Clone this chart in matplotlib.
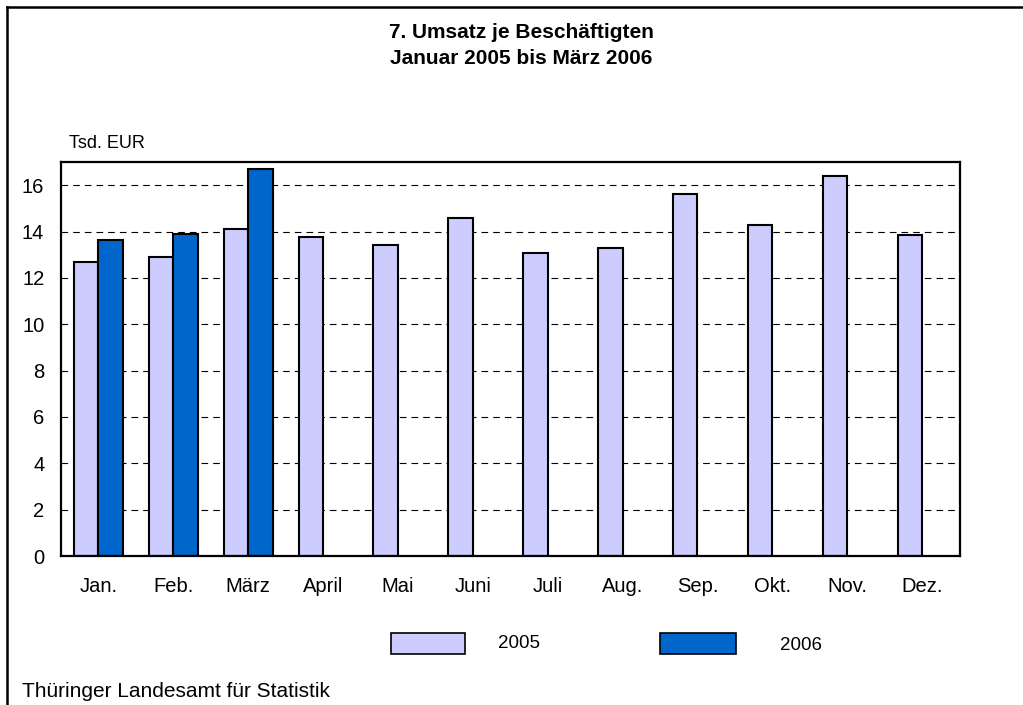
import matplotlib
matplotlib.use("Agg")
import matplotlib.pyplot as plt
from matplotlib.patches import Rectangle
from matplotlib.lines import Line2D
import numpy as np

plt.rcParams['font.family'] = ['Liberation Sans', 'DejaVu Sans']

months = ["Jan.", "Feb.", "März", "April", "Mai", "Juni", "Juli", "Aug.", "Sep.", "Okt.", "Nov.", "Dez."]
values_2005 = [12.69, 12.9, 14.1, 13.75, 13.41, 14.57, 13.06, 13.29, 15.64, 14.27, 16.4, 13.84]
values_2006 = [13.63, 13.9, 16.69]
series_labels = ["2005", "2006"]
yticks = [0, 2, 4, 6, 8, 10, 12, 14, 16]

c2005 = "#CCCCFF"
c2006 = "#0066CC"

W, H = 1023, 705
fig = plt.figure(figsize=(W / 100, H / 100), dpi=100)
ax = fig.add_axes([61 / W, 1 - 556 / H, (959.5 - 61) / W, (556 - 162) / H])

x = np.arange(len(months))
w = 0.327
ax.bar(x - w / 2, values_2005, w, color=c2005, edgecolor="black", linewidth=1.5, zorder=3)
ax.bar(x[:len(values_2006)] + w / 2, values_2006, w, color=c2006, edgecolor="black", linewidth=1.5, zorder=3)

ax.set_xlim(-0.5, len(months) - 0.5)
ax.set_ylim(0, 17)
ax.set_yticks(yticks)
ax.set_yticklabels([str(t) for t in yticks], fontsize=14.5)
ax.set_xticks(x)
ax.set_xticklabels(months, fontsize=14.5)
ax.tick_params(axis="y", length=0, pad=12)
ax.tick_params(axis="x", length=0, pad=15)
for t in yticks[1:]:
    ax.axhline(t, color="black", linewidth=0.8, linestyle=(0, (6, 4.5)), zorder=1)
for s in ax.spines.values():
    s.set_linewidth(1.6)
    s.set_zorder(4)

# titles
fig.text(521 / W, 1 - 33 / H, "7. Umsatz je Beschäftigten", ha="center", va="center",
         fontsize=15, fontweight="bold")
fig.text(521 / W, 1 - 58 / H, "Januar 2005 bis März 2006", ha="center", va="center",
         fontsize=15, fontweight="bold")
fig.text(69 / W, 1 - 143 / H, "Tsd. EUR", ha="left", va="center", fontsize=13)

# legend
fig.add_artist(Rectangle((391 / W, 1 - 654 / H), 74 / W, 21 / H, transform=fig.transFigure,
                         facecolor=c2005, edgecolor="black", linewidth=1.2))
fig.text(498 / W, 1 - 643 / H, series_labels[0], ha="left", va="center", fontsize=13.5)
fig.add_artist(Rectangle((660 / W, 1 - 654 / H), 76 / W, 21 / H, transform=fig.transFigure,
                         facecolor=c2006, edgecolor="black", linewidth=1.2))
fig.text(780 / W, 1 - 645 / H, series_labels[1], ha="left", va="center", fontsize=13.5)

# footer
fig.text(22 / W, 1 - 697 / H, "Thüringer Landesamt für Statistik", ha="left", va="baseline", fontsize=15)

# outer frame (top and left)
fig.add_artist(Line2D([7 / W, 1.0], [1 - 7 / H, 1 - 7 / H], transform=fig.transFigure, color="black", linewidth=1.8))
fig.add_artist(Line2D([7 / W, 7 / W], [0.0, 1 - 7 / H], transform=fig.transFigure, color="black", linewidth=1.8))

fig.savefig("out.png", dpi=100)
